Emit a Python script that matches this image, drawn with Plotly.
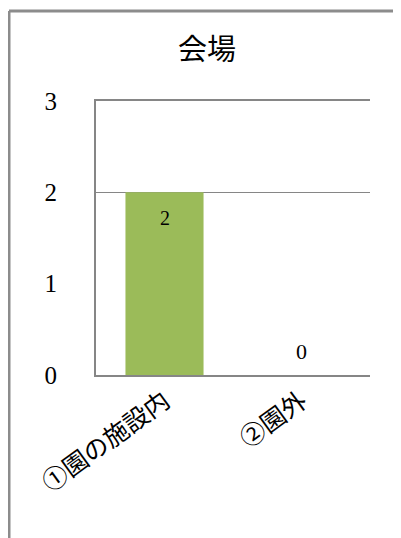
import plotly.graph_objects as go

categories = ["①園の施設内", "②園外"]
values = [2, 0]
y_ticks = [0, 1, 2, 3]
grid_vals = [2]
title_text = "会場"

GRAY = "#868686"
SERIF = "Liberation Serif, DejaVu Serif, serif"
CJK = "Noto Sans CJK JP, sans-serif"

# page body has an 8px default margin, so the figure is offset by 8px
OFF = 8
W, H = 401 - OFF, 538 - OFF
L, R, T, B = 96 - OFF, 401 - 370, 101 - OFF, 538 - 375
pw, ph = W - L - R, H - T - B

fig = go.Figure()
fig.add_trace(go.Bar(
    x=categories, y=values,
    marker=dict(color="#9BBB59", line=dict(width=0)),
    width=0.57,
    showlegend=False,
    hoverinfo="skip",
))
# helper trace so the grid-only overlay axis gets drawn
fig.add_trace(go.Scatter(x=categories, y=values, yaxis="y2", mode="none",
                         showlegend=False, hoverinfo="skip"))

# data labels
for c, v in zip(categories, values):
    fig.add_annotation(
        x=c, y=v, xref="x", yref="y",
        text=str(v), showarrow=False,
        yshift=-26 if v > 0 else 24,
        font=dict(family=SERIF, size=22 if v == 0 else 20, color="#000000"),
    )

fig.update_layout(
    width=W, height=H,
    margin=dict(l=L, r=R, t=T, b=B),
    paper_bgcolor="white", plot_bgcolor="white",
    title=dict(text=title_text, x=(207 - OFF) / W, xanchor="center",
               y=1 - (50 - OFF) / H, yanchor="middle",
               font=dict(family=CJK, size=29, color="#000000")),
    xaxis=dict(
        showline=True, linecolor=GRAY, linewidth=2, mirror=True,
        ticks="", tickangle=-36,
        tickfont=dict(family=CJK, size=25, color="#000000"),
        showgrid=False, zeroline=False,
    ),
    yaxis=dict(
        range=[0, 3], tickvals=y_ticks,
        showline=True, linecolor=GRAY, linewidth=2,
        showgrid=False, zeroline=False, ticks="",
        ticklabelstandoff=32,
        tickfont=dict(family=SERIF, size=25, color="#000000"),
    ),
    yaxis2=dict(
        range=[0, 3], tickvals=grid_vals, overlaying="y",
        showgrid=True, gridcolor=GRAY, gridwidth=1,
        showticklabels=False, showline=False, zeroline=False,
    ),
    bargap=0.43,
)

# outer chart frame (top and left edges visible in the crop)
fx = (9 - OFF - L) / pw
fy = 1 + (T - (11 - OFF)) / ph
fig.add_shape(type="line", xref="paper", yref="paper",
              x0=fx, x1=1.3, y0=fy, y1=fy,
              line=dict(color="#8c8c8c", width=3))
fig.add_shape(type="line", xref="paper", yref="paper",
              x0=fx, x1=fx, y0=fy, y1=-0.8,
              line=dict(color="#8c8c8c", width=3))

fig.write_html("out.html")
